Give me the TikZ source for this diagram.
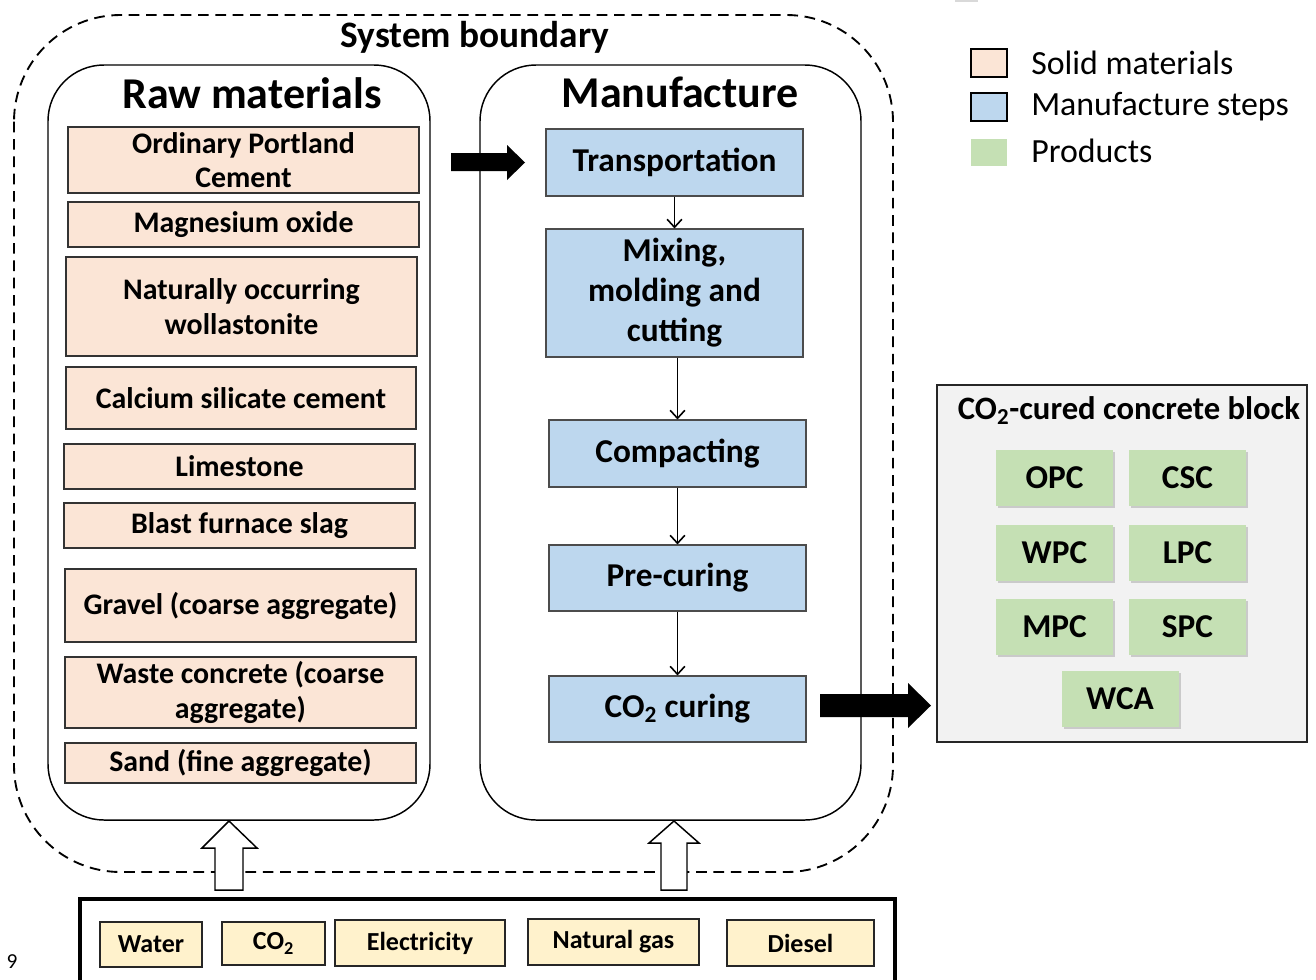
\documentclass[tikz,border=0pt]{standalone}
\usepackage{fontspec}
\setmainfont{Carlito}
\usetikzlibrary{shadows,arrows.meta}
\definecolor{peach}{HTML}{FBE5D6}
\definecolor{stepblue}{HTML}{BDD7EE}
\definecolor{prodgreen}{HTML}{C5E0B4}
\definecolor{inyellow}{HTML}{FFF2CC}
\definecolor{boxgray}{HTML}{F2F2F2}
\tikzset{
  sz/.style 2 args={minimum width=#1*0.75pt, minimum height=#2*0.75pt},
  rawbox/.style={draw=black!80, line width=0.9pt, fill=peach, inner sep=0pt, align=center,
    font=\fontsize{22.4}{26}\selectfont\bfseries},
  stepbox/.style={draw=black!70, line width=0.8pt, fill=stepblue, inner sep=0pt, align=center,
    font=\fontsize{25}{30}\selectfont\bfseries},
  prodbox/.style={fill=prodgreen, inner sep=0pt, align=center,
    drop shadow={opacity=0.35, shadow xshift=1.5pt, shadow yshift=-1.5pt},
    font=\fontsize{25}{28}\selectfont\bfseries},
  inbox/.style={draw=black!85, line width=0.9pt, fill=inyellow, inner sep=0pt, align=center,
    font=\fontsize{19.5}{22}\selectfont\bfseries},
  thinarrow/.style={-{Straight Barb[length=6pt,width=11pt,line width=1.2pt]}, line width=1.2pt},
  container/.style={draw=black, line width=1.1pt, rounded corners=42pt},
  hollow/.style={draw=black, line width=1.1pt, fill=white},
  legtext/.style={anchor=west, inner sep=0pt, font=\fontsize{25.4}{28}\selectfont},
}
\begin{document}
\begin{tikzpicture}[x=0.75pt,y=-0.75pt]
\useasboundingbox (0,0) rectangle (1316,979);
% tiny artifact at top
\fill[black!15] (955,0) rectangle (978,2);

% system boundary
\draw[line width=1.4pt, dash pattern=on 8pt off 5pt, rounded corners=80pt] (14,15) rectangle (893,872);
\node[font=\fontsize{28}{32}\selectfont\bfseries] (sysb) at (475,37) {System boundary};

% containers
\draw[container] (48,65) rectangle (430,820);
\draw[container] (480,65) rectangle (861,820);
\node[font=\fontsize{33}{38}\selectfont\bfseries] (rawt) at (252,93) {Raw materials};
\node[font=\fontsize{33}{38}\selectfont\bfseries] (mant) at (680,92) {Manufacture};

% raw materials
\node[rawbox, sz={351}{66}] (opc) at (243.5,160) {Ordinary Portland\\Cement};
\node[rawbox, sz={351}{45}] (mgo) at (243.5,224.5) {Magnesium oxide};
\node[rawbox, sz={351}{99}] (wol) at (241.5,306.5) {Naturally occurring\\wollastonite};
\node[rawbox, sz={350}{62}] (csc) at (241,398) {Calcium silicate cement};
\node[rawbox, sz={351}{45}] (lime) at (239.5,466.5) {Limestone};
\node[rawbox, sz={351}{45}] (slag) at (239.5,525.5) {Blast furnace slag};
\node[rawbox, sz={351}{73}] (grav) at (240.5,605.5) {Gravel (coarse aggregate)};
\node[rawbox, sz={351}{71}] (waste) at (240.5,692.5) {Waste concrete (coarse\\aggregate)};
\node[rawbox, sz={351}{40}] (sand) at (240.5,763) {Sand (fine aggregate)};

% manufacture steps
\node[stepbox, sz={257}{67}] (trans) at (674.5,162.5) {Transportation};
\node[stepbox, sz={257}{128}] (mix) at (674.5,293) {Mixing,\\molding and\\cutting};
\node[stepbox, sz={257}{67}] (comp) at (677.5,453.5) {Compacting};
\node[stepbox, sz={257}{66}] (pre) at (677.5,578) {Pre-curing};
\node[stepbox, sz={257}{66}] (cure) at (677.5,709) {CO\textsubscript{2} curing};

\draw[thinarrow] (trans.south) -- (mix.north);
\draw[thinarrow] (comp.north |- mix.south) -- (comp.north);
\draw[thinarrow] (comp.south) -- (pre.north);
\draw[thinarrow] (pre.south) -- (cure.north);

% fat black arrows
\fill[black] (451,153) -- (507,153) -- (507,145) -- (525,162.5) -- (507,180) -- (507,171) -- (451,171) -- cycle;
\fill[black] (820,694) -- (908,694) -- (908,683) -- (931,705.5) -- (908,728) -- (908,717) -- (820,717) -- cycle;

% products
\node[draw=black!85, line width=1.1pt, fill=boxgray, sz={370}{357}] (prod) at (1122,563.5) {};
\node[font=\fontsize{24.5}{28}\selectfont\bfseries] (prodt) at (1129,411) {CO\textsubscript{2}-cured concrete block};
\node[prodbox, sz={117}{56}] (p1) at (1054.5,478) {OPC};
\node[prodbox, sz={117}{56}] (p2) at (1187.5,478) {CSC};
\node[prodbox, sz={117}{56}] (p3) at (1054.5,552.5) {WPC};
\node[prodbox, sz={117}{56}] (p4) at (1187.5,552.5) {LPC};
\node[prodbox, sz={117}{56}] (p5) at (1054.5,627) {MPC};
\node[prodbox, sz={117}{56}] (p6) at (1187.5,627) {SPC};
\node[prodbox, sz={117}{56}] (p7) at (1120,699) {WCA};

% legend
\draw[line width=0.9pt, fill=peach] (971,49) rectangle (1007,77);
\draw[line width=0.9pt, fill=stepblue] (971,93) rectangle (1007,121);
\fill[prodgreen] (971,139) rectangle (1007,166);
\node[legtext] (l1) at (1031,63) {Solid materials};
\node[legtext] (l2) at (1031,107) {Manufacture steps};
\node[legtext] (l3) at (1031,151) {Products};

% hollow up arrows
\draw[hollow] (215,890) -- (215,848) -- (202,848) -- (229,821) -- (257,848) -- (243,848) -- (243,890) -- cycle;
\draw[hollow] (661,890) -- (661,843) -- (649,843) -- (674,821) -- (699,843) -- (687,843) -- (687,890) -- cycle;

% inputs
\draw[line width=3pt] (80,1010) -- (80,899) -- (895,899) -- (895,1010);
\node[inbox, sz={102}{45}] (water) at (151,944.5) {Water};
\node[inbox, sz={103}{43}] (co2) at (273.5,943.5) {CO\textsubscript{2}};
\node[inbox, sz={170}{46}] (elec) at (420,943) {Electricity};
\node[inbox, sz={171}{46}] (gas) at (613.5,942) {Natural gas};
\node[inbox, sz={147}{46}] (dies) at (800.5,943) {Diesel};

\node[font=\fontsize{16}{18}\selectfont, inner sep=0pt] (pg) at (12,962) {9};
\end{tikzpicture}
\end{document}
